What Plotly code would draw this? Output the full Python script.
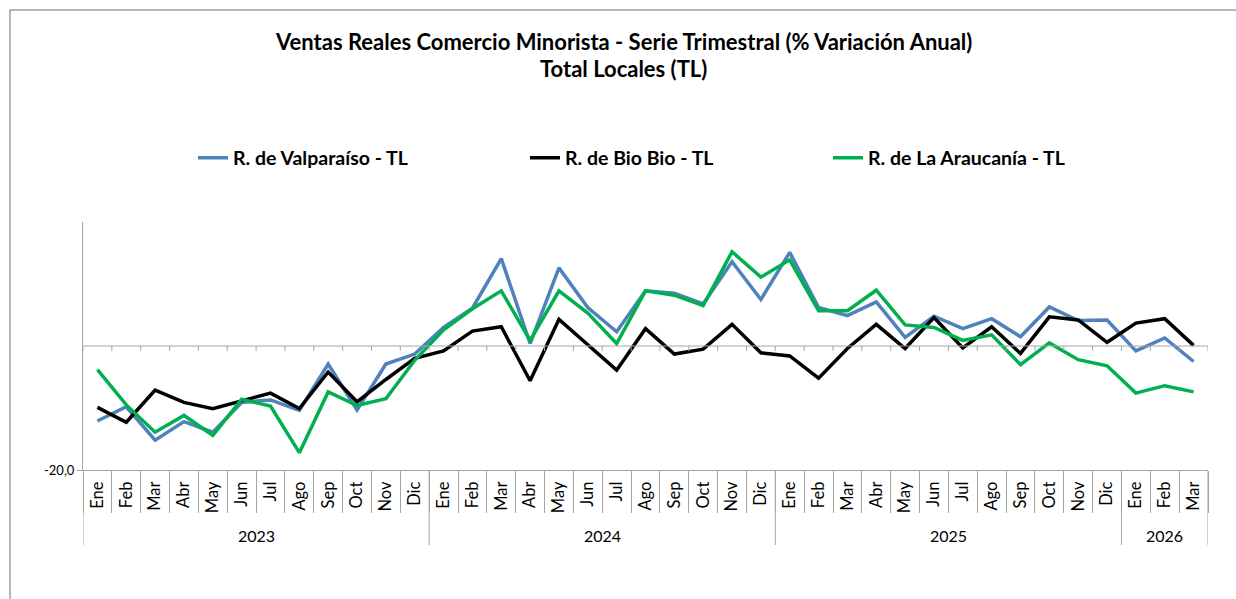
import plotly.graph_objects as go

# ---- data ----
month_names = ["Ene", "Feb", "Mar", "Abr", "May", "Jun", "Jul", "Ago", "Sep", "Oct", "Nov", "Dic"]
years = ["2023", "2024", "2025", "2026"]
months_per_year = [12, 12, 12, 3]

valparaiso = [-12.1, -9.8, -15.2, -12.2, -13.9, -9.1, -8.7, -10.4, -2.9, -10.3, -2.9, -1.3,
              3.0, 6.1, 14.1, 0.4, 12.6, 6.2, 2.3, 8.9, 8.5, 6.8, 13.6, 7.5,
              15.1, 6.2, 4.9, 7.1, 1.4, 4.8, 2.8, 4.4, 1.5, 6.3, 4.1, 4.2,
              -0.8, 1.3, -2.5]
biobio = [-9.9, -12.3, -7.1, -9.1, -10.1, -8.9, -7.6, -10.1, -4.2, -9.0, -5.4, -2.0,
          -0.8, 2.4, 3.1, -5.6, 4.3, 0.2, -3.9, 2.8, -1.3, -0.5, 3.5, -1.1,
          -1.6, -5.2, -0.4, 3.5, -0.4, 4.6, -0.3, 3.1, -1.2, 4.7, 4.2, 0.6,
          3.7, 4.4, 0.1]
araucania = [-3.8, -9.5, -13.9, -11.2, -14.4, -8.6, -9.7, -17.2, -7.4, -9.6, -8.5, -2.3,
             2.6, 6.0, 8.9, 0.9, 8.9, 5.3, 0.4, 8.9, 8.2, 6.5, 15.2, 11.1,
             13.9, 5.7, 5.7, 9.0, 3.4, 3.0, 0.9, 1.8, -3.0, 0.5, -2.2, -3.2,
             -7.6, -6.4, -7.4]

series_names = ["R. de Valparaíso - TL", "R. de Bio Bio - TL", "R. de La Araucanía - TL"]
series_colors = ["#4F81BD", "#000000", "#00B050"]

title_line1 = "Ventas Reales Comercio Minorista - Serie Trimestral (% Variación Anual)"
title_line2 = "Total Locales (TL)"

# ---- categories ----
cat_ids, cat_labels = [], []
for y, n in zip(years, months_per_year):
    for m in month_names[:n]:
        cat_ids.append(f"{m} {y}")
        cat_labels.append(m)
N = len(cat_ids)

FONT = "Lato"
GRID = "#A6A6A6"

fig = go.Figure()
legend_ids = ["legend", "legend2", "legend3"]
for vals, name, col, lg in zip([valparaiso, biobio, araucania], series_names, series_colors, legend_ids):
    fig.add_trace(go.Scatter(x=cat_ids, y=vals, mode="lines", name=name,
                             line=dict(color=col, width=3.5), legend=lg))

# plot area in pixels: left 83, right 1208, top 222, bottom 470
W, H = 1236, 599
L, R, T, B = 83, 1208, 222, 470
pw, ph = R - L, B - T

def px(xp):
    return (xp - L) / pw

def py(yp):
    return (B - yp) / ph

shapes = []
# zero line with small tick marks
shapes.append(dict(type="line", xref="x", yref="y", x0=-0.5, x1=N - 0.5, y0=0, y1=0,
                   line=dict(color=GRID, width=1)))
for i in range(N + 1):
    shapes.append(dict(type="line", xref="x", yref="paper", x0=i - 0.5, x1=i - 0.5,
                       y0=py(346), y1=py(351), line=dict(color=GRID, width=1)))
# year dividers
bounds = [-0.5]
for n in months_per_year:
    bounds.append(bounds[-1] + n)
for b in bounds:
    shapes.append(dict(type="line", xref="x", yref="paper", x0=b, x1=b,
                       y0=0, y1=py(545), line=dict(color=GRID, width=1)))
# outer chart frame
shapes.append(dict(type="rect", xref="paper", yref="paper", x0=px(10), x1=px(1245),
                   y0=py(610), y1=py(10), line=dict(color="#A0A0A0", width=1.5),
                   fillcolor="rgba(0,0,0,0)", layer="below"))

annotations = []
for y, b0, b1 in zip(years, bounds[:-1], bounds[1:]):
    annotations.append(dict(x=(b0 + b1) / 2, y=py(535), xref="x", yref="paper", text=y,
                            showarrow=False, font=dict(family=FONT, size=16, color="#000000"),
                            xanchor="center", yanchor="middle"))
annotations.append(dict(x=px(623), y=py(41), xref="paper", yref="paper", text=f"<b>{title_line1}</b>",
                        showarrow=False, font=dict(family=FONT, size=22, color="#000000"),
                        xanchor="center", yanchor="middle"))
annotations.append(dict(x=px(623), y=py(68), xref="paper", yref="paper", text=f"<b>{title_line2}</b>",
                        showarrow=False, font=dict(family=FONT, size=22, color="#000000"),
                        xanchor="center", yanchor="middle"))

leg_common = dict(orientation="h", yanchor="middle", y=py(158), xanchor="left",
                  font=dict(family=FONT, size=19.5, color="#000000", weight="bold"),
                  bgcolor="rgba(0,0,0,0)", borderwidth=0, itemwidth=30)

fig.update_layout(
    width=W, height=H,
    margin=dict(l=L, r=W - R, t=T, b=H - B),
    plot_bgcolor="white", paper_bgcolor="white",
    showlegend=True,
    legend=dict(x=px(193), **leg_common),
    legend2=dict(x=px(525), **leg_common),
    legend3=dict(x=px(828), **leg_common),
    shapes=shapes,
    annotations=annotations,
    xaxis=dict(type="category", categoryorder="array", categoryarray=cat_ids,
               tickmode="array", tickvals=cat_ids, ticktext=cat_labels,
               tickson="boundaries", ticks="outside", ticklen=42, tickcolor=GRID,
               tickangle=-90, tickfont=dict(family=FONT, size=16.5, color="#000000"),
               ticklabelstandoff=4,
               showline=True, linecolor=GRID, linewidth=1, showgrid=False, zeroline=False,
               range=[-0.5, N - 0.5]),
    yaxis=dict(range=[-20, 20], tickmode="array", tickvals=[-20], ticktext=["-20,0"],
               ticks="outside", ticklen=5, tickcolor=GRID,
               tickfont=dict(family=FONT, size=13, color="#000000"),
               showline=True, linecolor=GRID, linewidth=1, showgrid=False, zeroline=False),
)

fig.write_html("out.html", config={"displayModeBar": False},
               post_script="document.body.style.margin='0';")
